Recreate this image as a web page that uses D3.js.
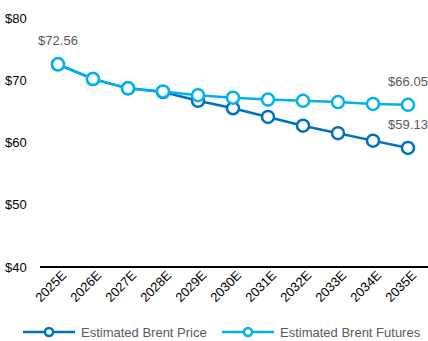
<html lang="en">
  <head>
    <script src="https://d3js.org/d3.v7.min.js"></script>
    <style>
      body { margin: 0; background: #fff; }
      svg text { font-family: "Liberation Sans", Arial, sans-serif; }
    </style>
  </head>
  <body>
    <svg id="chart" width="428" height="341"></svg>
    <script>
      const years = ['2025E', '2026E', '2027E', '2028E', '2029E', '2030E', '2031E', '2032E', '2033E', '2034E', '2035E']
      const brentPrice = [72.56, 70.2, 68.7, 68.1, 66.7, 65.5, 64.1, 62.7, 61.5, 60.3, 59.13]
      const brentFutures = [72.56, 70.2, 68.7, 68.2, 67.6, 67.2, 66.9, 66.7, 66.5, 66.2, 66.05]
      const yTicks = [40, 50, 60, 70, 80]

      const series = [
        { name: 'Estimated Brent Price', values: brentPrice, color: '#0070c0' },
        { name: 'Estimated Brent Futures', values: brentFutures, color: '#00b0f0' }
      ]

      const svg = d3.select('#chart')

      const x = d3.scalePoint().domain(years).range([58, 408])
      const y = d3.scaleLinear().domain([40, 80]).range([267, 18])

      // y labels
      svg.append('g')
        .selectAll('text')
        .data(yTicks).join('text')
        .attr('x', 5)
        .attr('y', d => y(d))
        .attr('dy', '0.35em')
        .attr('font-size', 13)
        .attr('fill', '#000')
        .text(d => '$' + d)

      // base axis line
      svg.append('line')
        .attr('x1', 40).attr('x2', 428)
        .attr('y1', y(40)).attr('y2', y(40))
        .attr('stroke', '#000').attr('stroke-width', 2)

      // x labels
      svg.append('g')
        .selectAll('text')
        .data(years).join('text')
        .attr('transform', d => `translate(${x(d) + 6},${y(40) + 6}) rotate(-45)`)
        .attr('text-anchor', 'end')
        .attr('dy', '0.35em')
        .attr('font-size', 13)
        .attr('fill', '#000')
        .text(d => d)

      const line = d3.line().x((d, i) => x(years[i])).y(d => y(d))

      series.forEach(s => {
        const g = svg.append('g')
        g.append('path')
          .attr('d', line(s.values))
          .attr('fill', 'none')
          .attr('stroke', s.color)
          .attr('stroke-width', 2.5)
        g.selectAll('circle')
          .data(s.values).join('circle')
          .attr('cx', (d, i) => x(years[i]))
          .attr('cy', d => y(d))
          .attr('r', 6)
          .attr('fill', '#fff')
          .attr('stroke', s.color)
          .attr('stroke-width', 2.5)
      })

      // data labels
      const labels = [
        { i: 0, v: brentPrice[0] },
        { i: 10, v: brentFutures[10] },
        { i: 10, v: brentPrice[10] }
      ]
      svg.append('g')
        .selectAll('text')
        .data(labels).join('text')
        .attr('x', d => x(years[d.i]))
        .attr('y', d => y(d.v) - 19)
        .attr('text-anchor', 'middle')
        .attr('font-size', 13)
        .attr('fill', '#595959')
        .text(d => '$' + d.v.toFixed(2))

      // legend
      const legX = [23, 222]
      const leg = svg.append('g')
        .selectAll('g')
        .data(series).join('g')
        .attr('transform', (d, i) => `translate(${legX[i]},332)`)
      leg.append('line')
        .attr('x1', 0).attr('x2', 52)
        .attr('stroke', d => d.color).attr('stroke-width', 2.5)
      leg.append('circle')
        .attr('cx', 26).attr('r', 4)
        .attr('fill', '#fff')
        .attr('stroke', d => d.color).attr('stroke-width', 2.5)
      leg.append('text')
        .attr('x', 58)
        .attr('dy', '0.35em')
        .attr('font-size', 13)
        .attr('fill', '#595959')
        .text(d => d.name)
    </script>
  </body>
</html>
